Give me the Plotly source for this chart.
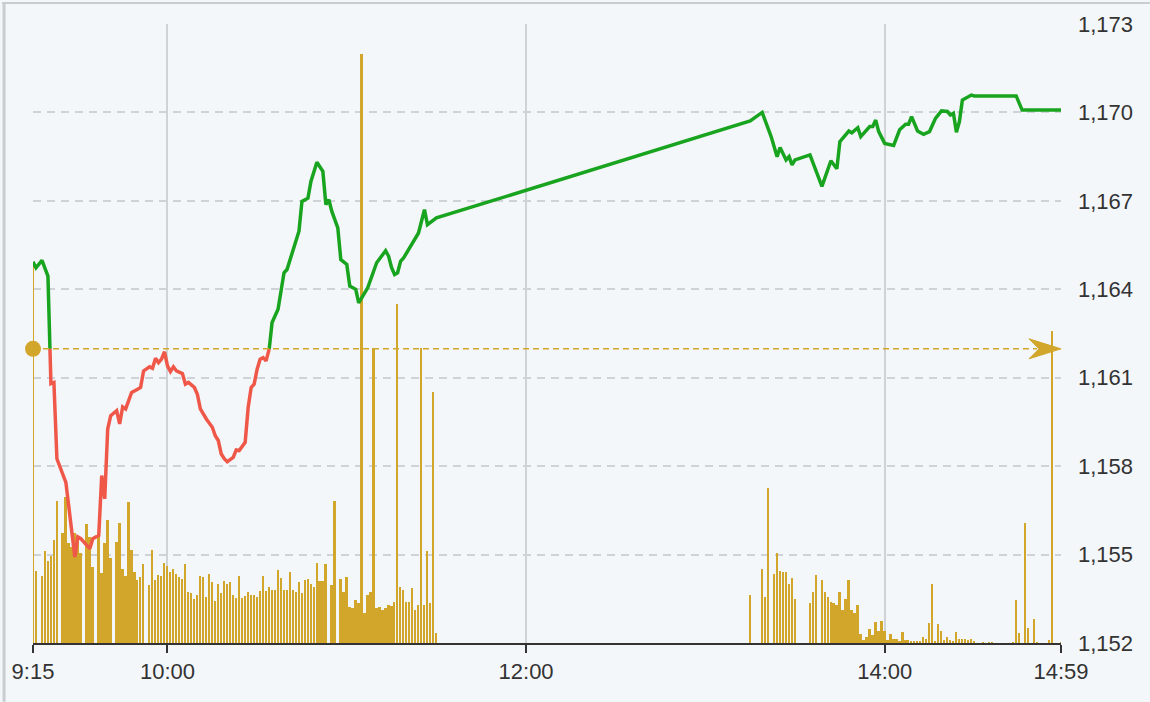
import plotly.graph_objects as go

# ---------------- data ----------------
prev_close = 1161.98

price_times = [
    "9:15", "9:16", "9:18", "9:19", "9:20", "9:21", "9:22", "9:23", "9:26", "9:29",
    "9:30", "9:31", "9:34", "9:35", "9:37", "9:38", "9:39", "9:40", "9:41", "9:43",
    "9:44", "9:45", "9:46", "9:48", "9:50", "9:51", "9:52", "9:54", "9:55", "9:56",
    "9:57", "9:58", "9:59", "10:00", "10:01", "10:02", "10:03", "10:05", "10:06", "10:07",
    "10:09", "10:10", "10:11", "10:13", "10:15", "10:16", "10:17", "10:18", "10:19", "10:20",
    "10:22", "10:23", "10:24", "10:26", "10:27", "10:28", "10:29", "10:30", "10:31", "10:32",
    "10:33", "10:34", "10:35", "10:37", "10:39", "10:40", "10:42", "10:44", "10:45", "10:47",
    "10:48", "10:50", "10:52", "10:53", "10:54", "10:55", "10:57", "10:58", "11:00", "11:01",
    "11:03", "11:04", "11:07", "11:09", "11:10", "11:13", "11:14", "11:15", "11:16", "11:17",
    "11:18", "11:19", "11:21", "11:24", "11:25", "11:26", "11:27", "11:29", "11:30",
    "13:15", "13:19", "13:22", "13:24", "13:25", "13:27", "13:28", "13:29", "13:30", "13:35",
    "13:39", "13:42", "13:44", "13:45", "13:48", "13:49", "13:51", "13:52", "13:55", "13:56",
    "13:57", "13:58", "14:00", "14:03", "14:05", "14:07", "14:08", "14:09", "14:11", "14:13",
    "14:15", "14:17", "14:19", "14:21", "14:22", "14:23", "14:24", "14:25", "14:26", "14:28",
    "14:29", "14:30", "14:44", "14:46", "14:59",
]
price_values = [
    1164.93, 1164.73, 1164.98, 1164.67, 1164.45, 1160.80, 1160.84, 1158.25, 1157.45, 1154.92,
    1155.60, 1155.54, 1155.20, 1155.54, 1155.65, 1157.68, 1156.89, 1159.26, 1159.71, 1159.88,
    1159.43, 1160.01, 1159.94, 1160.50, 1160.61, 1160.67, 1161.23, 1161.37, 1161.32, 1161.66,
    1161.51, 1161.63, 1161.88, 1161.40, 1161.21, 1161.37, 1161.23, 1161.14, 1160.78, 1160.84,
    1160.67, 1160.44, 1159.94, 1159.60, 1159.32, 1159.03, 1158.87, 1158.41, 1158.25, 1158.15,
    1158.30, 1158.55, 1158.53, 1158.81, 1159.99, 1160.67, 1160.78, 1161.29, 1161.63, 1161.68,
    1161.57, 1161.93, 1162.87, 1163.32, 1164.56, 1164.67, 1165.29, 1165.97, 1166.98, 1167.09,
    1167.66, 1168.31, 1168.00, 1166.87, 1167.04, 1166.64, 1166.08, 1165.01, 1164.84, 1164.11,
    1164.00, 1163.54, 1164.05, 1164.67, 1164.90, 1165.31, 1165.12, 1164.73, 1164.50, 1164.56,
    1164.95, 1165.06, 1165.40, 1165.91, 1166.31, 1166.70, 1166.19, 1166.36, 1166.42,
    1169.71, 1170.00, 1169.18, 1168.50, 1168.81, 1168.39, 1168.50, 1168.22, 1168.39, 1168.56,
    1167.49, 1168.36, 1168.09, 1169.01, 1169.37, 1169.31, 1169.48, 1169.18, 1169.52, 1169.52,
    1169.74, 1169.35, 1168.95, 1168.88, 1169.41, 1169.60, 1169.60, 1169.86, 1169.37, 1169.26,
    1169.35, 1169.80, 1170.05, 1170.03, 1169.91, 1169.97, 1169.33, 1169.69, 1170.42, 1170.53,
    1170.59, 1170.56, 1170.56, 1170.08, 1170.08,
]

# per-minute volume, morning session 9:15 .. 11:30
volume_morning_start = "9:15"
volume_morning = [
    61.4, 11.6, 0, 10.8, 14.9, 13.3, 14.0, 16.6, 22.9, 0,
    17.8, 23.6, 16.2, 15.5, 17.7, 16.3, 14.5, 0, 19.3, 17.1,
    12.3, 0, 17.4, 11.3, 16.2, 19.8, 13.8, 0, 16.3, 19.4,
    11.9, 10.8, 22.8, 15.0, 11.5, 10.1, 10.7, 12.7, 0, 9.3,
    15.0, 10.1, 11.0, 10.8, 13.0, 12.4, 11.4, 11.9, 11.2, 10.7,
    10.4, 12.7, 8.3, 8.0, 7.1, 7.8, 10.9, 10.7, 7.4, 11.1,
    9.8, 6.8, 9.5, 8.0, 10.0, 9.5, 9.8, 7.8, 7.3, 10.8,
    7.3, 7.6, 8.2, 7.8, 7.8, 7.4, 8.4, 10.8, 8.4, 9.1,
    8.6, 8.6, 11.8, 10.5, 8.5, 8.5, 11.4, 8.6, 8.2, 9.8,
    8.1, 10.2, 10.4, 9.5, 9.0, 13.0, 10.0, 10.0, 12.8, 0,
    9.3, 23.0, 0, 10.4, 8.2, 10.7, 5.8, 5.6, 6.9, 6.4,
    95.2, 4.8, 7.8, 8.2, 47.6, 5.7, 5.8, 5.3, 5.6, 6.2,
    6.0, 6.6, 54.8, 9.0, 8.6, 6.6, 6.6, 8.9, 5.4, 6.1,
    47.6, 6.1, 14.8, 6.4, 40.6, 1.6,
]
# per-minute volume, afternoon 13:15 .. 14:59
volume_afternoon_start = "13:15"
volume_afternoon = [
    7.8, 0, 0, 0, 12.0, 7.5, 25.1, 0, 11.2, 14.6,
    11.7, 11.4, 11.5, 9.5, 10.5, 7.1, 0, 0, 0, 0,
    6.5, 8.2, 11.0, 0, 10.1, 8.3, 7.5, 6.6, 6.4, 6.1,
    8.2, 5.4, 7.1, 10.1, 5.3, 4.9, 6.2, 1.4, 0.5, 0.9,
    2.3, 1.3, 3.4, 1.9, 3.5, 2.0, 0.5, 1.4, 0.6, 0.6,
    0.2, 1.7, 0.5, 0.5, 0.2, 0.2, 0.2, 0.2, 0.9, 0.7,
    3.3, 9.5, 0.2, 3.1, 2.0, 0.5, 0.9, 0.5, 0.2, 1.8,
    0.7, 0.7, 0.7, 0.5, 0.7, 0.3, 0, 0, 0.1, 0,
    0.1, 0.1, 0, 0, 0, 0, 0, 0, 0.1, 6.9,
    1.6, 0, 19.4, 2.4, 0, 3.8, 0.1, 0, 0, 0,
    0.5, 50.4, 0, 0, 0.1,
]

tick_labels = ["9:15", "10:00", "12:00", "14:00", "14:59"]
price_ticks = [1152, 1155, 1158, 1161, 1164, 1167, 1170, 1173]

# ---------------- helpers ----------------
def tmin(s):
    h, m = map(int, s.split(":"))
    return h * 60 + m - (9 * 60 + 15)

px = [tmin(t) for t in price_times]

vol_x = [tmin(volume_morning_start) + i for i in range(len(volume_morning))] + \
        [tmin(volume_afternoon_start) + i for i in range(len(volume_afternoon))]
vol_y = volume_morning + volume_afternoon

# split price line at the previous-close level
runs = []
cur = None
cx, cy = [], []
for k, (x, y) in enumerate(zip(px, price_values)):
    side = y >= prev_close
    if k == 0:
        cur, cx, cy = side, [x], [y]
        continue
    if side != cur:
        x0, y0 = px[k - 1], price_values[k - 1]
        t = (prev_close - y0) / (y - y0)
        xc = x0 + t * (x - x0)
        cx.append(xc); cy.append(prev_close)
        runs.append((cur, cx, cy))
        cx, cy, cur = [xc], [prev_close], side
    cx.append(x); cy.append(y)
runs.append((cur, cx, cy))

def join(flag):
    xs, ys = [], []
    for s, rx, ry in runs:
        if s == flag:
            if xs:
                xs.append(None); ys.append(None)
            xs += rx; ys += ry
    return xs, ys

gx, gy = join(True)
rx_, ry_ = join(False)

GOLD = "#d1a62b"
GREEN = "#19a41f"
RED = "#ef5849"
GRID = "#cfd2d6"
FONT = "Liberation Sans, Arial, sans-serif"

fig = go.Figure()
fig.add_trace(go.Bar(x=vol_x, y=vol_y, width=0.6,
                     marker=dict(color=GOLD, line=dict(width=0)),
                     yaxis="y", showlegend=False))
fig.add_trace(go.Scatter(x=gx, y=gy, mode="lines", line=dict(color=GREEN, width=3.5),
                         yaxis="y2", showlegend=False))
fig.add_trace(go.Scatter(x=rx_, y=ry_, mode="lines", line=dict(color=RED, width=3.5),
                         yaxis="y2", showlegend=False))
fig.add_trace(go.Scatter(x=[px[0]], y=[prev_close], mode="markers",
                         marker=dict(color=GOLD, size=16), yaxis="y2",
                         cliponaxis=False, showlegend=False))

x_end = tmin(tick_labels[-1])
fig.add_shape(type="line", xref="x", yref="y2", x0=px[0], x1=x_end - 8,
              y0=prev_close, y1=prev_close, line=dict(color=GOLD, width=1.5, dash="6px,4px"))
fig.add_shape(type="path", xref="x", yref="y2", xsizemode="pixel", ysizemode="pixel",
              xanchor=x_end, yanchor=prev_close,
              path="M 0 0 L -32 10 L -22 0 L -32 -10 Z",
              fillcolor=GOLD, line=dict(color=GOLD, width=1))

W, H = 1150, 702
ml, mr, mt, mb = 31, 89, 22, 59
pw, ph = W - ml - mr, H - mt - mb
# outer frame (left and top)
fig.add_shape(type="line", xref="paper", yref="paper",
              x0=-(ml - 2) / pw, x1=-(ml - 2) / pw, y0=-mb / ph, y1=1 + mt / ph,
              line=dict(color="#c9ccd0", width=3))
fig.add_shape(type="line", xref="paper", yref="paper",
              x0=-ml / pw, x1=1 + mr / pw, y0=1 + (mt - 1) / ph, y1=1 + (mt - 1) / ph,
              line=dict(color="#c9ccd0", width=2))

fig.update_layout(
    width=W, height=H,
    margin=dict(l=ml, r=mr, t=mt, b=mb),
    paper_bgcolor="#f4f7fa", plot_bgcolor="#f4f7fa",
    font=dict(family=FONT, size=22, color="#333333"),
    bargap=0,
    xaxis=dict(
        range=[0, x_end], tickmode="array",
        tickvals=[tmin(t) for t in tick_labels], ticktext=tick_labels,
        showgrid=True, gridcolor=GRID, gridwidth=1.5,
        showline=True, linecolor="#333333", linewidth=2,
        ticks="outside", ticklen=8, tickwidth=2, tickcolor="#333333",
        zeroline=False,
    ),
    yaxis=dict(range=[0, 100], visible=False, showgrid=False, fixedrange=True),
    yaxis2=dict(
        overlaying="y", side="right", range=[price_ticks[0], price_ticks[-1]],
        tickmode="array", tickvals=price_ticks,
        ticktext=[f"{v:,}" for v in price_ticks],
        showgrid=True, gridcolor=GRID, gridwidth=1.5, griddash="8px,6px",
        zeroline=False, showline=False, ticks="", ticklabelstandoff=16,
    ),
)

fig.write_html("out.html", config={"displayModeBar": False},
               post_script="document.body.style.margin='0px';")
